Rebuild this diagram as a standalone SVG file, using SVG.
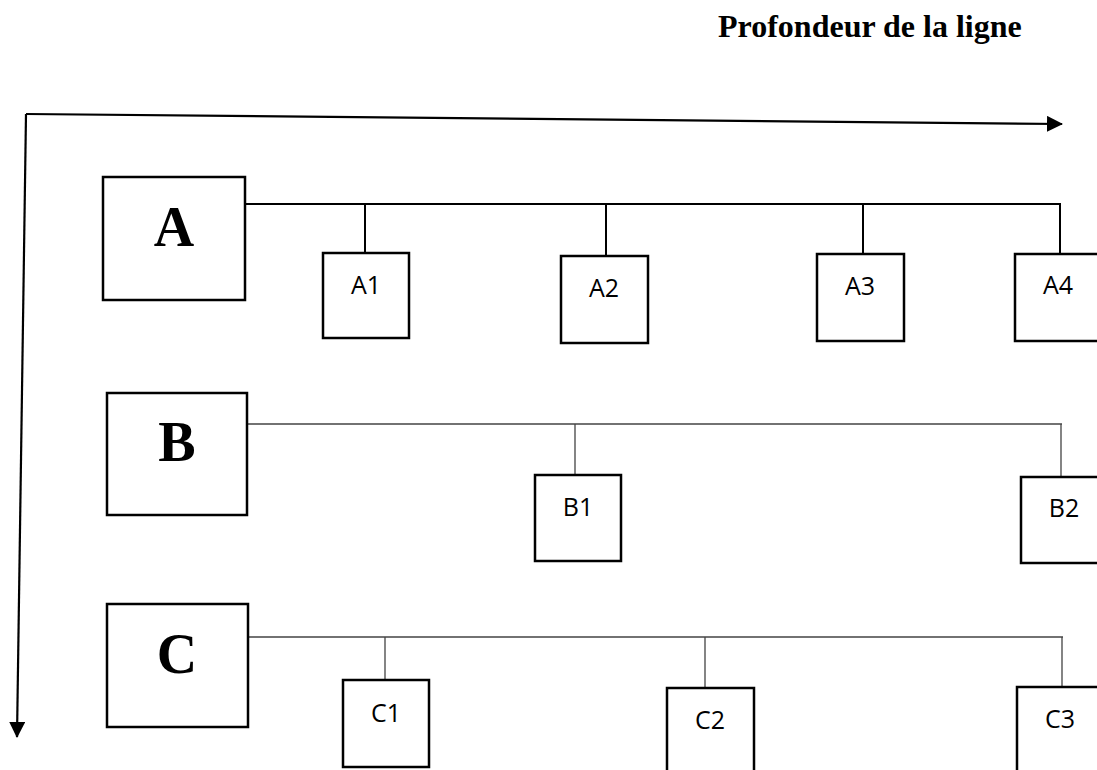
<svg xmlns="http://www.w3.org/2000/svg" width="1097" height="770" viewBox="0 0 1097 770">
<style>
.big{fill:#fff;stroke:#000;stroke-width:2.5}
.sm{fill:#fff;stroke:#000;stroke-width:2.5}
.bl{font-family:"Liberation Serif",serif;font-weight:bold;font-size:56px;text-anchor:middle;fill:#000}
.sl{font-family:"Open Sans","Noto Sans",sans-serif;font-size:25px;text-anchor:middle;fill:#000}
.title{font-family:"Liberation Serif",serif;font-weight:bold;font-size:32px;fill:#000}
.ca{stroke:#000;stroke-width:2;fill:none}
.cb{stroke:#444;stroke-width:1.3;fill:none}
.ax{stroke:#000;stroke-width:2.2;fill:none}
</style>
<defs>
<marker id="arr" markerWidth="16" markerHeight="16" refX="15" refY="8" orient="auto" markerUnits="userSpaceOnUse">
<path d="M0,0 L16,8 L0,16 Z" fill="#000"/>
</marker>
</defs>
<rect width="1097" height="770" fill="#fff"/>
<text class="title" x="718" y="37">Profondeur de la ligne</text>
<g id="connectors">
<path class="ax" d="M26,114 L1062,124" marker-end="url(#arr)"/>
<path class="ax" d="M26,114 L17,737" marker-end="url(#arr)"/>
<path class="ca" d="M245,204 H1061 M365,204 V253 M606,204 V256 M863,204 V254 M1060,204 V254"/>
<path class="cb" d="M247,424 H1062 M575,424 V475 M1061,424 V477"/>
<path class="cb" d="M248,637 H1063 M385,637 V680 M705,637 V688 M1062,637 V687"/>
</g>
<g id="A"><rect class="big" x="103" y="177" width="142" height="123"/><text class="bl" x="174" y="246">A</text></g>
<g id="A1"><rect class="sm" x="323" y="253" width="86" height="85"/><text class="sl" x="366" y="294">A1</text></g>
<g id="A2"><rect class="sm" x="561" y="256" width="87" height="87"/><text class="sl" x="604" y="297">A2</text></g>
<g id="A3"><rect class="sm" x="817" y="254" width="87" height="87"/><text class="sl" x="860" y="295">A3</text></g>
<g id="A4"><rect class="sm" x="1015" y="254" width="100" height="87"/><text class="sl" x="1058" y="294">A4</text></g>
<g id="B"><rect class="big" x="107" y="393" width="140" height="122"/><text class="bl" x="177" y="461">B</text></g>
<g id="B1"><rect class="sm" x="535" y="475" width="86" height="86"/><text class="sl" x="578" y="516">B1</text></g>
<g id="B2"><rect class="sm" x="1021" y="477" width="100" height="86"/><text class="sl" x="1064" y="517">B2</text></g>
<g id="C"><rect class="big" x="107" y="604" width="141" height="123"/><text class="bl" x="177" y="673">C</text></g>
<g id="C1"><rect class="sm" x="343" y="680" width="86" height="87"/><text class="sl" x="386" y="722">C1</text></g>
<g id="C2"><rect class="sm" x="667" y="688" width="87" height="100"/><text class="sl" x="710" y="729">C2</text></g>
<g id="C3"><rect class="sm" x="1017" y="687" width="100" height="100"/><text class="sl" x="1060" y="728">C3</text></g>
</svg>
